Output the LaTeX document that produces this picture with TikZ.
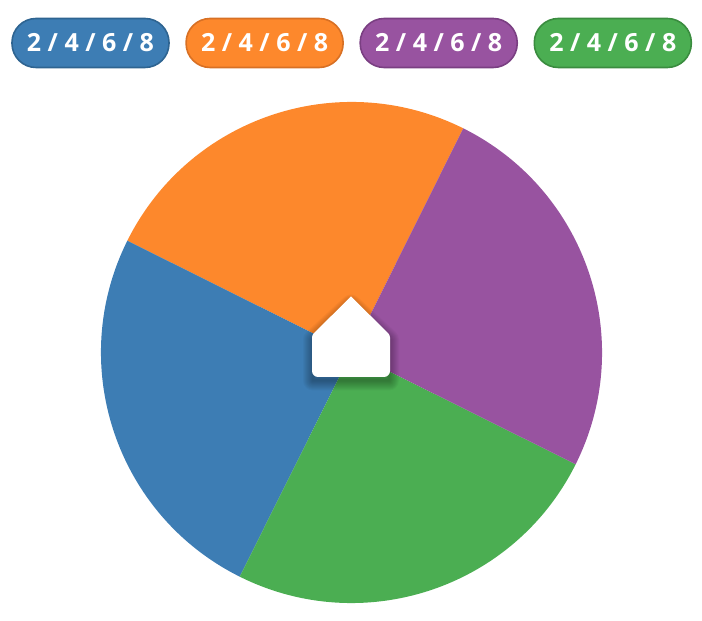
\documentclass[tikz,border=0pt]{standalone}
\usepackage{fontspec}
\newfontfamily\pillfont{Open Sans}
\usetikzlibrary{positioning}

\definecolor{sliceblue}{HTML}{3D7DB4}
\definecolor{sliceorange}{HTML}{FD882C}
\definecolor{slicepurple}{HTML}{9853A0}
\definecolor{slicegreen}{HTML}{4BAE52}
\definecolor{edgeblue}{HTML}{2E6491}
\definecolor{edgeorange}{HTML}{D87024}
\definecolor{edgepurple}{HTML}{7A3F82}
\definecolor{edgegreen}{HTML}{3A8C3F}

\begin{document}
\begin{tikzpicture}[x=1pt,y=1pt,line join=round]
  \tikzset{
    pill/.style={draw=edge#1,fill=slice#1,line width=1.6pt,rounded corners=24pt,
      minimum width=157pt,minimum height=49pt,inner sep=0pt,text=white,
      font=\pillfont\bfseries\fontsize{25}{29}\selectfont},
    slice/.style={fill=slice#1},
    knob/.style={fill=white,draw=none}
  }
  \useasboundingbox (0,0) rectangle (702,621);

  % legend row, one pill per slice
  \node[pill=blue] (kblue) at (90.5,578) {2 / 4 / 6 / 8};
  \node[pill=orange,right=15.5pt of kblue] (korange) {2 / 4 / 6 / 8};
  \node[pill=purple,right=15.5pt of korange] (kpurple) {2 / 4 / 6 / 8};
  \node[pill=green,right=15.5pt of kpurple] (kgreen) {2 / 4 / 6 / 8};

  % the wheel: four quarters, turned so the cuts sit at 63.5 deg
  \coordinate (hub) at (351.5,268.5);
  \foreach \c [count=\i from 0] in {orange,blue,green,purple}{
    \pgfmathsetmacro{\a}{63.5+90*\i}
    \fill[slice=\c] (hub) -- ++(\a:250.5) arc[start angle=\a,delta angle=90,radius=250.5] -- cycle;
  }

  % soft shadow under the pointer
  \foreach \w in {2,4,...,20}
    \draw[black,opacity=0.03,line width=\w pt]
      ([shift={(0,-4)}]hub) ++(-38.5,-24) -- ++(76,0) -- ++(0,41) -- ++(-38,35) -- ++(-38,-35) -- cycle;

  % pointer
  \fill[knob] (351,244) [rounded corners=6pt] -- (390,244) [rounded corners=2.5pt] -- (390,286)
    [sharp corners] -- (351,324.5) [rounded corners=2.5pt] -- (312,286) [rounded corners=6pt] -- (312,244) [sharp corners] -- cycle;
\end{tikzpicture}
\end{document}
